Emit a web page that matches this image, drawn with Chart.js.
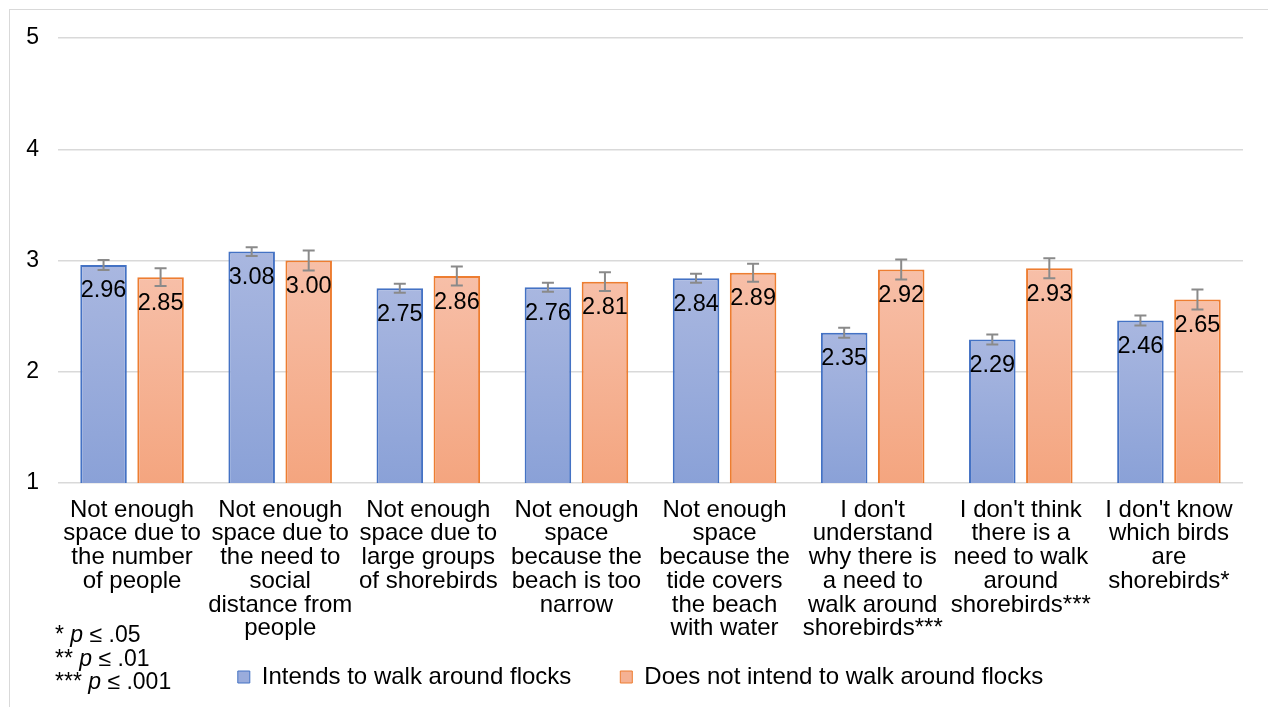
<!DOCTYPE html>
<html>
<head>
<meta charset="utf-8">
<script src="https://cdn.jsdelivr.net/npm/chart.js@4.4.1/dist/chart.umd.min.js"></script>
<style>
  html, body { margin: 0; padding: 0; background: #fff; overflow: hidden; }
  #wrap { position: relative; width: 1268px; height: 707px; overflow: hidden; }
  #frame { position: absolute; left: 9px; top: 9px; width: 1290px; height: 720px;
           border: 1.5px solid #d9d9d9; box-sizing: border-box; }
  #c { position: absolute; left: 0; top: 0; }
</style>
</head>
<body>
<div id="wrap">
  <div id="frame"></div>
  <canvas id="c" width="1268" height="707"></canvas>
</div>
<script>
// Reasons for not walking around shorebird flocks, mean agreement (1-5)
const categories = [
  ["Not enough", "space due to", "the number", "of people"],
  ["Not enough", "space due to", "the need to", "social", "distance from", "people"],
  ["Not enough", "space due to", "large groups", "of shorebirds"],
  ["Not enough", "space", "because the", "beach is too", "narrow"],
  ["Not enough", "space", "because the", "tide covers", "the beach", "with water"],
  ["I don't", "understand", "why there is", "a need to", "walk around", "shorebirds***"],
  ["I don't think", "there is a", "need to walk", "around", "shorebirds***"],
  ["I don't know", "which birds", "are", "shorebirds*"]
];
const seriesNames = ["Intends to walk around flocks", "Does not intend to walk around flocks"];
const intendsMeans = [2.96, 3.08, 2.75, 2.76, 2.84, 2.35, 2.29, 2.46];
const notIntendsMeans = [2.85, 3.00, 2.86, 2.81, 2.89, 2.92, 2.93, 2.65];
const intendsErr = [0.045, 0.04, 0.04, 0.04, 0.04, 0.045, 0.045, 0.045];
const notIntendsErr = [0.08, 0.09, 0.085, 0.085, 0.08, 0.09, 0.09, 0.09];
const yTicks = [1, 2, 3, 4, 5];
const footnotes = [["*", ".05"], ["**", ".01"], ["***", ".001"]];

const FONT = "'Liberation Sans', Arial, Helvetica, sans-serif";

function barGradient(top, bottom) {
  return (ctx) => {
    const chart = ctx.chart;
    const area = chart.chartArea;
    if (!area || ctx.type !== 'data') return top;
    const yTop = chart.scales.y.getPixelForValue(ctx.raw);
    const g = chart.ctx.createLinearGradient(0, yTop, 0, area.bottom);
    g.addColorStop(0, top);
    g.addColorStop(1, bottom);
    return g;
  };
}

// Keeps the long category labels from being clipped and centres the legend row
const layoutTweaks = {
  id: 'layoutTweaks',
  afterLayout(chart) {
    chart.scales.x.bottom = chart.height;
    if (chart.legend) {
      chart.legend.left -= 10;
      chart.legend.right -= 10;
    }
  }
};

const errorBars = {
  id: 'errorBars',
  afterDatasetsDraw(chart) {
    const ctx = chart.ctx;
    const y = chart.scales.y;
    const errs = [intendsErr, notIntendsErr];
    ctx.save();
    ctx.strokeStyle = '#8a8a8a';
    ctx.lineWidth = 2;
    chart.data.datasets.forEach((ds, di) => {
      chart.getDatasetMeta(di).data.forEach((bar, i) => {
        const v = ds.data[i], e = errs[di][i];
        const yHi = y.getPixelForValue(v + e), yLo = y.getPixelForValue(v - e);
        const x = bar.x, cap = 6;
        ctx.beginPath();
        ctx.moveTo(x, yHi); ctx.lineTo(x, yLo);
        ctx.moveTo(x - cap, yHi); ctx.lineTo(x + cap, yHi);
        ctx.moveTo(x - cap, yLo); ctx.lineTo(x + cap, yLo);
        ctx.stroke();
      });
    });
    ctx.restore();
  }
};

const valueLabels = {
  id: 'valueLabels',
  afterDatasetsDraw(chart) {
    const ctx = chart.ctx;
    ctx.save();
    ctx.font = '23.5px ' + FONT;
    ctx.fillStyle = '#000';
    ctx.textAlign = 'center';
    ctx.textBaseline = 'middle';
    chart.data.datasets.forEach((ds, di) => {
      chart.getDatasetMeta(di).data.forEach((bar, i) => {
        ctx.fillText(ds.data[i].toFixed(2), bar.x, bar.y + 26);
      });
    });
    ctx.restore();
  }
};

const footnoteText = {
  id: 'footnoteText',
  afterDraw(chart) {
    const ctx = chart.ctx;
    const baselines = [642, 666, 689];
    ctx.save();
    ctx.fillStyle = '#000';
    ctx.textBaseline = 'alphabetic';
    footnotes.forEach(([stars, level], i) => {
      const base = baselines[i];
      let x = 55;
      ctx.font = '23px ' + FONT;
      ctx.fillText(stars + ' ', x, base);
      x += ctx.measureText(stars + ' ').width;
      ctx.font = 'italic 23px ' + FONT;
      ctx.fillText('p', x, base);
      x += ctx.measureText('p').width;
      ctx.font = '23px ' + FONT;
      ctx.fillText(' \u2264 ' + level, x, base);
    });
    ctx.restore();
  }
};

new Chart(document.getElementById('c'), {
  type: 'bar',
  data: {
    labels: categories,
    datasets: [
      {
        label: seriesNames[0],
        data: intendsMeans,
        backgroundColor: barGradient('#a9b7e0', '#8aa1d7'),
        borderColor: '#4472c4',
        borderWidth: 2,
        borderSkipped: 'bottom'
      },
      {
        label: seriesNames[1],
        data: notIntendsMeans,
        backgroundColor: barGradient('#f7bfa8', '#f4a57f'),
        borderColor: '#ed7d31',
        borderWidth: 2,
        borderSkipped: 'bottom'
      }
    ]
  },
  options: {
    responsive: false,
    animation: false,
    devicePixelRatio: 1,
    categoryPercentage: 0.77,
    barPercentage: 0.816,
    layout: { padding: { top: 38, left: 10, right: 25, bottom: 8 } },
    plugins: {
      tooltip: { enabled: false },
      legend: {
        position: 'bottom',
        fullSize: false,
        labels: {
          color: '#000',
          font: { family: FONT, size: 24 },
          boxWidth: 12,
          boxHeight: 12,
          padding: 49,
          generateLabels(chart) {
            const fills = ['#9aacdc', '#f5b193'];
            return chart.data.datasets.map((ds, i) => ({
              text: ds.label,
              fillStyle: fills[i],
              strokeStyle: ds.borderColor,
              lineWidth: 1,
              datasetIndex: i,
              hidden: false
            }));
          }
        }
      }
    },
    scales: {
      x: {
        grid: { display: false, drawTicks: false },
        border: { display: false },
        ticks: {
          color: '#000',
          font: { family: FONT, size: 24, lineHeight: 0.99 },
          padding: 15,
          maxRotation: 0,
          minRotation: 0,
          autoSkip: false
        },
        afterFit(scale) { scale.height = 133; }
      },
      y: {
        min: 1,
        max: 5,
        afterBuildTicks(scale) { scale.ticks = yTicks.map(v => ({ value: v })); },
        grid: { color: '#d9d9d9', lineWidth: 1.5, drawTicks: false },
        border: { display: false },
        ticks: {
          color: '#000',
          font: { family: FONT, size: 23 },
          padding: 19
        },
        afterFit(scale) { scale.width = 48; }
      }
    }
  },
  plugins: [layoutTweaks, errorBars, valueLabels, footnoteText]
});
</script>
</body>
</html>
